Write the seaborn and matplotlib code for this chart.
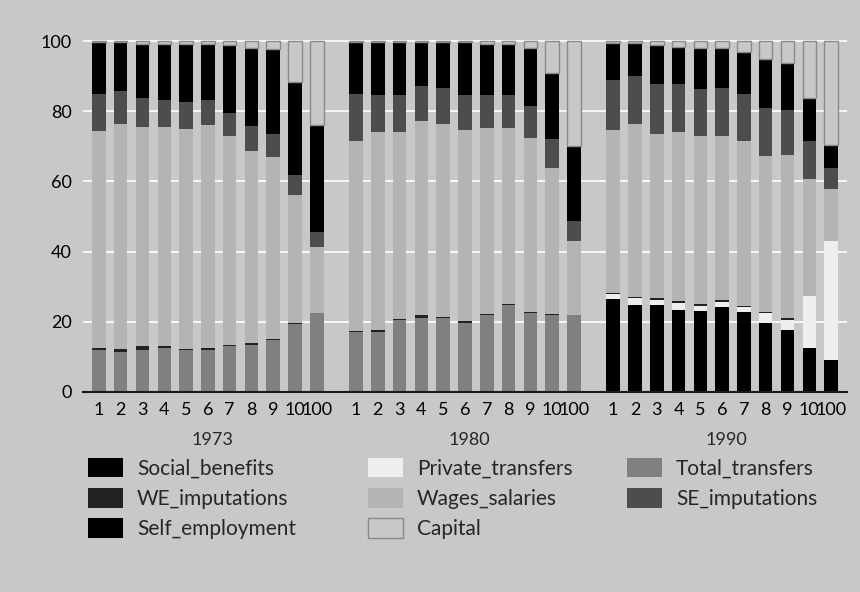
import numpy as np
import pandas as pd
import matplotlib
matplotlib.use("Agg")
import matplotlib.pyplot as plt
from matplotlib.patches import Patch
import seaborn as sns

# income shares (%) by decile group, 1973 / 1980 / 1990 (11 bars each)
years = ["1973", "1980", "1990"]
deciles = ["1", "2", "3", "4", "5", "6", "7", "8", "9", "10", "100"]

social_benefits = [0, 0, 0, 0, 0, 0, 0, 0, 0, 0, 0,
                   0, 0, 0, 0, 0, 0, 0, 0, 0, 0, 0,
                   26.5, 24.8, 24.8, 23.5, 23.1, 24.3, 22.9, 19.8, 17.6, 12.4, 9.0]
private_transfers = [0, 0, 0, 0, 0, 0, 0, 0, 0, 0, 0,
                     0, 0, 0, 0, 0, 0, 0, 0, 0, 0, 0,
                     1.3, 2.0, 1.4, 2.0, 1.5, 1.4, 1.4, 2.6, 3.0, 14.9, 33.9]
total_transfers = [11.9, 11.5, 11.9, 12.6, 11.9, 11.9, 13.0, 13.4, 14.9, 19.4, 22.5,
                   17.0, 17.0, 20.5, 21.2, 21.0, 19.8, 21.8, 24.8, 22.6, 21.8, 21.8,
                   0, 0, 0, 0, 0, 0, 0, 0, 0, 0, 0]
we_imputations = [0.7, 0.7, 1.1, 0.4, 0.3, 0.7, 0.4, 0.7, 0.3, 0.3, 0.1,
                  0.4, 0.6, 0.2, 0.6, 0.4, 0.4, 0.3, 0.2, 0.3, 0.3, 0.0,
                  0.3, 0.2, 0.5, 0.4, 0.4, 0.4, 0.3, 0.3, 0.4, 0.0, 0.0]
wages_salaries = [61.7, 64.3, 62.4, 62.4, 62.8, 63.4, 59.4, 54.6, 51.7, 36.4, 18.8,
                  54.2, 56.6, 53.5, 55.3, 55.1, 54.4, 53.2, 50.3, 49.4, 41.7, 21.2,
                  46.5, 49.5, 46.7, 48.3, 47.8, 46.9, 47.0, 44.4, 46.5, 33.4, 14.8]
se_imputations = [10.5, 9.3, 8.3, 7.8, 7.5, 7.2, 6.8, 7.1, 6.7, 5.6, 4.3,
                  13.4, 10.5, 10.5, 10.2, 10.1, 10.1, 9.4, 9.4, 9.1, 8.3, 5.6,
                  14.3, 13.5, 14.3, 13.5, 13.4, 13.6, 13.4, 13.9, 12.8, 10.9, 6.1]
self_employment = [14.8, 14.0, 15.4, 15.9, 16.6, 15.9, 19.2, 22.3, 24.0, 26.7, 30.4,
                   14.8, 15.1, 15.1, 12.5, 13.2, 15.1, 14.4, 14.4, 16.7, 18.7, 21.5,
                   10.4, 9.3, 11.2, 10.7, 11.9, 11.5, 11.9, 14.0, 13.3, 12.3, 6.7]
capital = [0.4, 0.2, 0.9, 0.9, 0.9, 0.9, 1.2, 1.9, 2.4, 11.6, 23.9,
           0.2, 0.2, 0.2, 0.2, 0.2, 0.2, 0.9, 0.9, 1.9, 9.2, 29.9,
           0.7, 0.7, 1.1, 1.6, 1.9, 1.9, 3.1, 5.0, 6.4, 16.1, 29.5]

bg = "#c8c8c8"
sns.set_style("whitegrid", {"axes.facecolor": bg, "figure.facecolor": bg,
                            "grid.color": "white", "axes.edgecolor": bg})
plt.rcParams["font.family"] = ["Lato", "DejaVu Sans"]

group_step = 11.8
positions = [g * group_step + i for g in range(len(years)) for i in range(len(deciles))]

df = pd.DataFrame({
    "pos": positions,
    "Social_benefits": social_benefits,
    "Private_transfers": private_transfers,
    "Total_transfers": total_transfers,
    "WE_imputations": we_imputations,
    "Wages_salaries": wages_salaries,
    "SE_imputations": se_imputations,
    "Self_employment": self_employment,
    "Capital": capital,
})

# stacking order bottom -> top
layers = [("Social_benefits", "#000000"), ("Private_transfers", "#eeeeee"),
          ("Total_transfers", "#808080"), ("WE_imputations", "#222222"),
          ("Wages_salaries", "#b4b4b4"), ("SE_imputations", "#4d4d4d"),
          ("Self_employment", "#000000"), ("Capital", bg)]
colors = dict(layers)

fig = plt.figure(figsize=(8.6, 5.92), dpi=100)
ax = fig.add_axes([83 / 860, 1 - 392 / 592, 764 / 860, 358 / 592])

bottom = np.zeros(len(df))
for name, color in layers:
    edge = "#8a8a8a" if name == "Capital" else "none"
    sns.barplot(data=df, x="pos", y=name, native_scale=True, width=0.62,
                color=color, saturation=1, errorbar=None, bottom=bottom,
                edgecolor=edge, linewidth=1.0, zorder=2, ax=ax)
    bottom = bottom + df[name].values

ax.set_xlim(-0.73, positions[-1] + 0.73)
ax.set_ylim(0, 102)
ax.set_yticks([0, 20, 40, 60, 80, 100])
ax.set_xticks(positions)
ax.set_xticklabels(deciles * len(years))
ax.tick_params(axis="both", length=0, labelsize=13, colors="black")
ax.tick_params(axis="x", pad=7)
ax.tick_params(axis="y", pad=8)
ax.set_xlabel("")
ax.set_ylabel("")
ax.xaxis.grid(False)
ax.yaxis.grid(True, color="white", linewidth=1.2)
for side in ["top", "left", "right"]:
    ax.spines[side].set_visible(False)
ax.spines["bottom"].set_color("#1a1a1a")
ax.spines["bottom"].set_linewidth(1.5)
ax.spines["bottom"].set_zorder(3)

for g, year in enumerate(years):
    ax.text(g * group_step + 5.2, -0.134, year, transform=ax.get_xaxis_transform(),
            ha="center", va="center", fontsize=13)

# legend: three columns placed where the reference has them
legend_cols = [["Social_benefits", "WE_imputations", "Self_employment"],
               ["Private_transfers", "Wages_salaries", "Capital"],
               ["Total_transfers", "SE_imputations"]]
col_x = [88, 368, 627]
for names, x0 in zip(legend_cols, col_x):
    handles = [Patch(facecolor=colors[n], edgecolor="#8a8a8a" if n == "Capital" else "none",
                     linewidth=1.0) for n in names]
    fig.legend(handles, names, ncol=1, loc="upper left",
               bbox_to_anchor=(x0 / 860, 1 - 458 / 592), frameon=False, fontsize=15,
               handlelength=1.68, handleheight=1.06, handletextpad=0.67,
               labelspacing=0.45, borderpad=0, borderaxespad=0)

fig.savefig("out.png", dpi=100, facecolor=bg)
